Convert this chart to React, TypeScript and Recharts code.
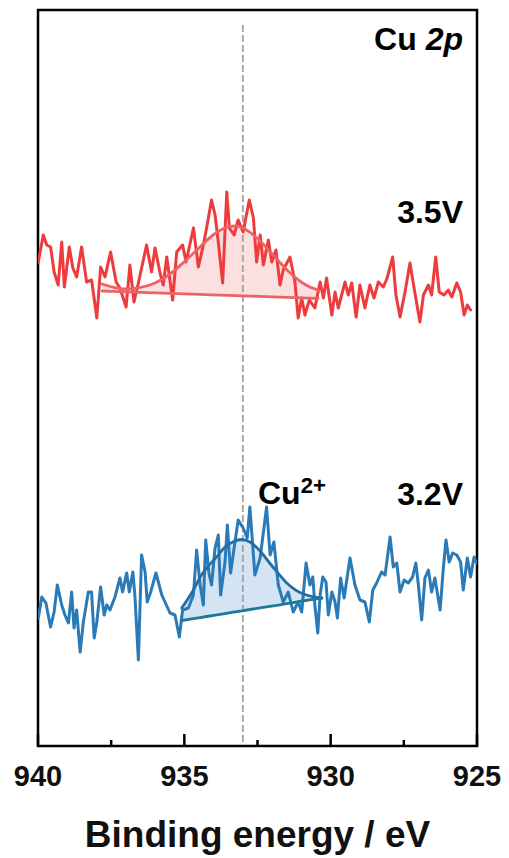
import React from 'react';
import {
  ComposedChart, Line, Area, XAxis, YAxis, ReferenceArea, ReferenceLine, Label, Customized,
} from 'recharts';

// Binding energy (eV) vs relative intensity (arbitrary units)
const red35: [number, number][] = [
  [939.99, 484], [939.82, 511], [939.70, 501], [939.57, 499], [939.45, 474], [939.31, 461], [939.19, 504], [939.10, 459],
  [938.93, 499], [938.81, 478], [938.68, 469], [938.51, 499], [938.34, 464], [938.17, 466], [937.99, 428], [937.86, 479],
  [937.71, 469], [937.52, 494], [937.33, 464], [937.20, 458], [936.99, 439], [936.86, 481], [936.72, 444], [936.57, 463],
  [936.29, 501], [936.12, 474], [936.00, 498], [935.83, 473], [935.72, 461], [935.60, 489], [935.40, 446], [935.26, 494],
  [935.06, 501], [934.94, 484], [934.69, 518], [934.52, 479], [934.35, 501], [934.24, 518], [934.07, 546], [933.95, 531],
  [933.84, 504], [933.69, 463], [933.55, 554], [933.46, 518], [933.30, 511], [933.16, 526], [932.99, 514], [932.78, 546],
  [932.64, 528], [932.53, 484], [932.41, 511], [932.30, 481], [932.13, 506], [932.01, 484], [931.87, 496], [931.73, 461],
  [931.62, 476], [931.39, 489], [931.22, 464], [931.11, 428], [930.99, 448], [930.88, 431], [930.73, 446], [930.54, 438],
  [930.36, 464], [930.25, 448], [930.14, 468], [929.96, 431], [929.85, 454], [929.74, 438], [929.51, 464], [929.40, 451],
  [929.28, 463], [929.13, 429], [929.00, 461], [928.83, 438], [928.66, 461], [928.52, 448], [928.37, 464], [928.20, 459],
  [928.07, 468], [927.88, 489], [927.77, 451], [927.63, 429], [927.46, 454], [927.29, 483], [927.15, 458], [926.95, 424],
  [926.83, 451], [926.66, 461], [926.55, 451], [926.41, 489], [926.29, 454], [926.13, 451], [925.98, 456], [925.86, 449],
  [925.69, 463], [925.56, 454], [925.44, 431], [925.33, 441], [925.22, 436],
];

// [energy, envelope, background]
const redFit: [number, number, number][] = [
  [937.81, 462, 455], [937.47, 459, 454.7], [937.03, 457, 454.2], [936.51, 458.5, 453.7], [936.00, 463, 453.2],
  [935.49, 472, 452.6], [935.01, 484, 452.2], [934.50, 498, 451.6], [934.02, 511, 451.1], [933.51, 519, 450.6],
  [933.23, 520, 450.3], [933.00, 518, 450.1], [932.48, 507, 449.6], [932.00, 492, 449.1], [931.49, 476, 448.6],
  [931.01, 464, 448.1], [930.71, 459, 447.8], [930.43, 456, 447.5],
];

const blue32: [number, number][] = [
  [939.99, 128], [939.87, 149], [939.73, 143], [939.57, 119], [939.45, 134], [939.34, 161], [939.19, 141], [939.08, 131],
  [938.96, 123], [938.85, 154], [938.77, 118], [938.68, 136], [938.56, 94], [938.45, 124], [938.28, 154], [938.17, 154],
  [938.08, 108], [937.99, 124], [937.86, 159], [937.74, 131], [937.65, 141], [937.54, 136], [937.37, 149], [937.20, 168],
  [937.11, 154], [936.97, 173], [936.88, 154], [936.76, 174], [936.69, 151], [936.57, 86], [936.46, 191], [936.34, 174],
  [936.27, 144], [936.15, 154], [935.97, 173], [935.77, 151], [935.49, 133], [935.32, 131], [935.17, 109], [935.06, 136],
  [934.86, 138], [934.69, 151], [934.58, 196], [934.46, 161], [934.35, 141], [934.27, 206], [934.16, 173], [934.07, 161],
  [933.95, 198], [933.84, 211], [933.76, 151], [933.61, 184], [933.53, 221], [933.42, 173], [933.27, 204], [933.16, 226],
  [932.99, 218], [932.85, 208], [932.76, 239], [932.59, 171], [932.41, 188], [932.19, 239], [932.07, 191], [931.94, 204],
  [931.79, 161], [931.62, 144], [931.45, 154], [931.28, 134], [931.11, 144], [930.99, 134], [930.84, 183], [930.71, 161],
  [930.61, 169], [930.54, 141], [930.44, 113], [930.36, 151], [930.27, 169], [930.16, 164], [930.08, 131], [929.96, 154],
  [929.85, 144], [929.77, 128], [929.66, 168], [929.54, 148], [929.34, 188], [929.17, 161], [929.00, 146], [928.83, 144],
  [928.68, 124], [928.56, 156], [928.43, 163], [928.26, 174], [928.14, 171], [927.97, 209], [927.86, 179], [927.74, 183],
  [927.63, 154], [927.49, 166], [927.35, 163], [927.20, 169], [927.09, 183], [927.01, 163], [926.89, 126], [926.78, 168],
  [926.66, 176], [926.55, 154], [926.44, 168], [926.26, 136], [926.15, 178], [926.06, 206], [925.95, 184], [925.83, 193],
  [925.69, 191], [925.56, 184], [925.47, 156], [925.33, 188], [925.22, 169], [925.10, 189], [925.01, 183],
];

const blueFit: [number, number, number][] = [
  [935.09, 138, 125.5], [934.69, 156, 127.4], [934.46, 169, 128.4], [934.24, 178, 129.5], [933.89, 189.3, 131.1],
  [933.61, 199, 132.4], [933.33, 204.3, 133.8], [933.03, 206.5, 135.2], [932.76, 204, 136.5], [932.41, 195, 138.1],
  [932.14, 185, 139.3], [931.84, 174.3, 140.7], [931.50, 163, 142.3], [931.28, 157.7, 143.4], [931.05, 153.5, 144.5],
  [930.71, 150, 146.1], [930.30, 148, 148],
];

const xTicks = [940, 937.5, 935, 932.5, 930, 927.5, 925];
const peakLine = 933;
const labels = { top: '3.5V', bottom: '3.2V', species: 'Cu', charge: '2+', axis: 'Binding energy / eV' };

const toRaw = (arr: [number, number][]) => arr.map(([e, v]) => ({ e, v }));
const toFit = (arr: [number, number, number][]) => arr.map(([e, env, base]) => ({ e, env, base, band: [base, env] }));

const redRaw = toRaw(red35);
const redFitData = toFit(redFit);
const blueRaw = toRaw(blue32);
const blueFitData = toFit(blueFit);

const FONT = '"Liberation Sans", Arial, sans-serif';

const renderTick = (props: any) => {
  const { x, y, payload } = props;
  const major = payload.value % 5 === 0;
  return (
    <g>
      <line x1={x} x2={x} y1={y} y2={y - (major ? 12 : 6)} stroke="#000" strokeWidth={2.5} />
      {major && (
        <text x={x} y={y + 40} textAnchor="middle" fontSize={29} fontWeight="bold" fontFamily={FONT} fill="#111">
          {payload.value}
        </text>
      )}
    </g>
  );
};

const Annotations = () => (
  <g fontFamily={FONT} fontWeight="bold" fill="#000">
    <text x={455} y={42} textAnchor="end" fontSize={32}>
      {'Cu '}<tspan fontStyle="italic">2p</tspan>
    </text>
    <text x={455} y={215} textAnchor="end" fontSize={32}>{labels.top}</text>
    <text x={455} y={497} textAnchor="end" fontSize={32}>{labels.bottom}</text>
    <text x={250} y={496} fontSize={32}>
      {labels.species}<tspan fontSize={22} dy={-11}>{labels.charge}</tspan>
    </text>
  </g>
);

const lineStyle = { strokeLinejoin: 'round' as const, strokeLinecap: 'round' as const };

export default function App() {
  return (
    <ComposedChart width={493} height={850} margin={{ top: 2, right: 24, left: 30, bottom: 2 }}>
      <XAxis
        type="number"
        dataKey="e"
        domain={[925, 940]}
        reversed
        allowDataOverflow
        ticks={xTicks}
        interval={0}
        tickLine={false}
        axisLine={false}
        tickSize={0}
        tickMargin={0}
        tick={renderTick}
        height={110}
      >
        <Label
          content={(p: any) => {
            const vb = p.viewBox || {};
            return (
              <text x={vb.x + vb.width / 2} y={vb.y + 101} textAnchor="middle" fontSize={37} fontWeight="bold" fontFamily={FONT} fill="#111">
                {labels.axis}
              </text>
            );
          }}
        />
      </XAxis>
      <YAxis type="number" domain={[0, 736]} hide allowDataOverflow />
      <ReferenceArea x1={940} x2={925} y1={0} y2={736} fill="none" stroke="#000" strokeWidth={2.5} ifOverflow="visible" />
      <ReferenceLine
        segment={[{ x: peakLine, y: 4 }, { x: peakLine, y: 722 }]}
        stroke="#a8a8a8"
        strokeWidth={2}
        strokeDasharray="7 3"
        ifOverflow="visible"
      />
      <Line data={redRaw} dataKey="v" type="linear" stroke="#ee3b3d" strokeWidth={3} dot={false} isAnimationActive={false} {...lineStyle} />
      <Line data={blueRaw} dataKey="v" type="linear" stroke="#2a7ab8" strokeWidth={3} dot={false} isAnimationActive={false} {...lineStyle} />
      <Area data={redFitData} dataKey="band" type="monotone" stroke="none" fill="#fbd2d2" fillOpacity={0.72} isAnimationActive={false} />
      <Area data={blueFitData} dataKey="band" type="monotone" stroke="none" fill="#c5d9ed" fillOpacity={0.72} isAnimationActive={false} />
      <Line data={redFitData} dataKey="env" type="monotone" stroke="#ea6466" strokeWidth={2.8} dot={false} isAnimationActive={false} {...lineStyle} />
      <Line data={redFitData} dataKey="base" type="linear" stroke="#ea6466" strokeWidth={2.8} dot={false} isAnimationActive={false} {...lineStyle} />
      <Line data={blueFitData} dataKey="env" type="monotone" stroke="#236fa3" strokeWidth={2.8} dot={false} isAnimationActive={false} {...lineStyle} />
      <Line data={blueFitData} dataKey="base" type="linear" stroke="#1b7a97" strokeWidth={2.8} dot={false} isAnimationActive={false} {...lineStyle} />
      <Customized component={<Annotations />} />
    </ComposedChart>
  );
}
